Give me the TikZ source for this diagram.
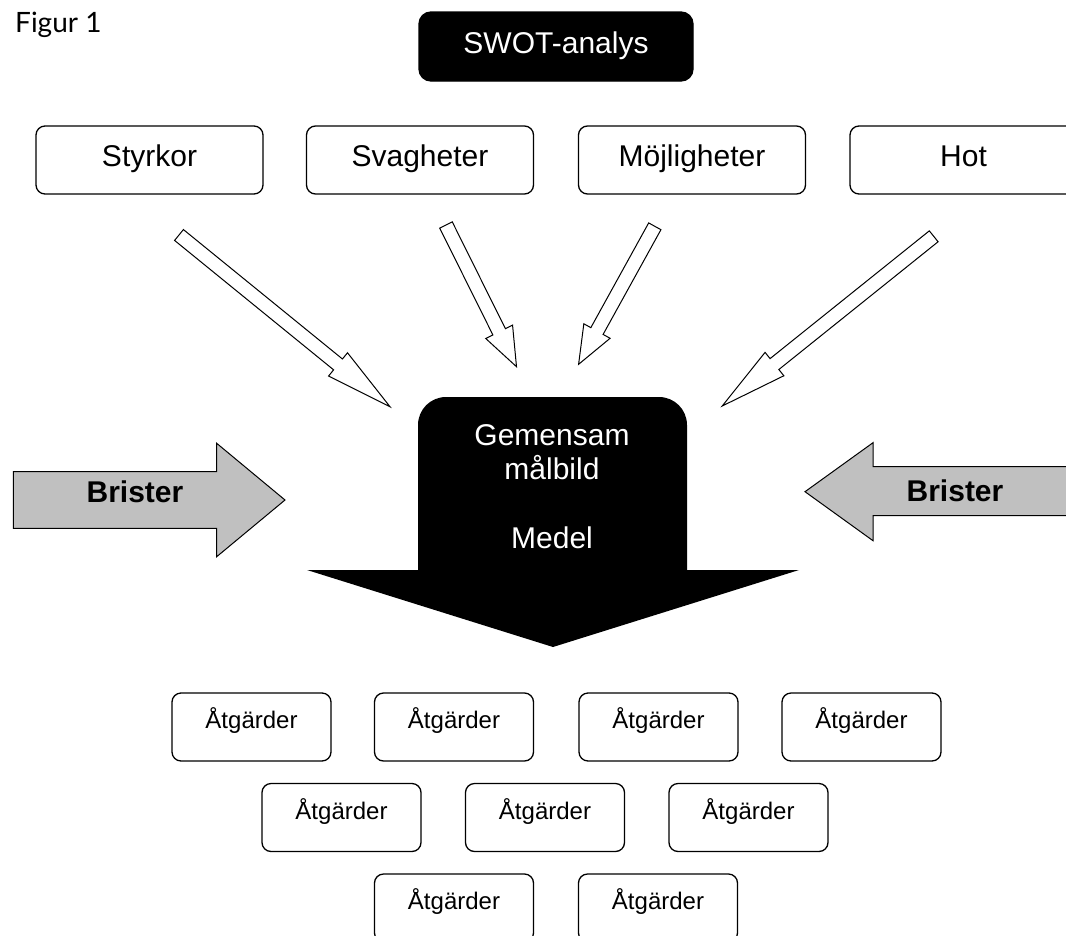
\documentclass[tikz,border=0pt]{standalone}
\usepackage{fontspec}
\setmainfont{Liberation Sans}
\newfontfamily\figfont{Lato}
\usetikzlibrary{calc}
\definecolor{briggrey}{HTML}{C0C0C0}
\tikzset{
  swotbox/.style={draw, line width=1.3pt, rounded corners=9pt, minimum width=227pt,
    minimum height=68pt, inner sep=0pt, font=\fontsize{30}{36}\selectfont,
    text height=22pt, text depth=8.6pt},
  titlebox/.style={swotbox, fill=black, text=white, rounded corners=12pt,
    minimum width=274pt, minimum height=69pt},
  actbox/.style={draw, line width=1.3pt, rounded corners=9pt, minimum width=159pt,
    minimum height=68pt, inner sep=0pt, font=\fontsize{24}{29}\selectfont,
    text height=14pt, text depth=11pt},
  hollowarrow/.style={draw, fill=white, line width=1pt, line join=miter},
  bristerarrow/.style={draw, fill=briggrey, line width=1pt},
  bristertext/.style={font=\bfseries\fontsize{30}{36}\selectfont, anchor=base, inner sep=0pt},
  centertext/.style={text=white, font=\fontsize{30}{36}\selectfont, anchor=base, inner sep=0pt},
}
\newcommand\hollowarr[3]{%
  \coordinate (#1hb) at ($(#2)!#3!(#1)$);
  \draw[hollowarrow] ($(#1)!7pt!90:(#2)$) -- ($(#1hb)!7pt!90:(#2)$)
    -- ($(#1hb)!15pt!90:(#2)$) -- (#2) -- ($(#1hb)!15pt!-90:(#2)$)
    -- ($(#1hb)!7pt!-90:(#2)$) -- ($(#1)!7pt!-90:(#2)$) -- cycle;
}
\begin{document}
\begin{tikzpicture}[x=1pt,y=-1pt]
\path[use as bounding box, clip] (0,0) rectangle (1066,935);
\fill[white] (0,0) rectangle (1066,935);

% title
\node[anchor=base west, font=\figfont\fontsize{28}{34}\selectfont, inner sep=0pt] (fig) at (15,32) {Figur 1};
\node[titlebox] (swot) at (556,46.5) {SWOT-analys};

% SWOT boxes
\node[swotbox] (styrkor) at (149.5,160) {Styrkor};
\node[swotbox] (svag) at (420,160) {Svagheter};
\node[swotbox] (moj) at (692,160) {Möjligheter};
\node[swotbox] (hot) at (963.5,160) {Hot};

% hollow arrows
\coordinate (a1s) at (179,235);   \coordinate (a1e) at (390,406.7);
\coordinate (a2s) at (446,225);   \coordinate (a2e) at (516.5,366.7);
\coordinate (a3s) at (654.8,226.3); \coordinate (a3e) at (578.6,364.3);
\coordinate (a4s) at (933.7,236.3); \coordinate (a4e) at (722.2,406);
\hollowarr{a1s}{a1e}{67pt}
\hollowarr{a2s}{a2e}{39pt}
\hollowarr{a3s}{a3e}{38pt}
\hollowarr{a4s}{a4e}{67pt}

% central black arrow
\fill[black] (418,570) -- (418,425) .. controls (418,409.5) and (430.5,397) .. (446,397)
  -- (659,397) .. controls (674.5,397) and (687,409.5) .. (687,425)
  -- (687,570) -- (799,570) -- (553,647) -- (307,570) -- cycle;
\node[centertext] (gem) at (552,445) {Gemensam};
\node[centertext] (mal) at (552,479) {målbild};
\node[centertext] (medel) at (552,548) {Medel};

% Brister arrows
\draw[bristerarrow] (13.3,471.7) -- (216.7,471.7) -- (216.7,443.3) -- (285,500)
  -- (216.7,556.7) -- (216.7,528.3) -- (13.3,528.3) -- cycle;
\node[bristertext] (bl) at (135,502.7) {Brister};
\draw[bristerarrow] (1080,466.7) -- (873,466.7) -- (873,442.7) -- (805,491.7)
  -- (873,540.7) -- (873,515.7) -- (1080,515.7) -- cycle;
\node[bristertext] (br) at (955,501.7) {Brister};

% Atgarder boxes
\node[actbox] (t1) at (251.5,727) {Åtgärder};
\node[actbox] (t2) at (454,727) {Åtgärder};
\node[actbox] (t3) at (658.5,727) {Åtgärder};
\node[actbox] (t4) at (861.5,727) {Åtgärder};
\node[actbox] (t5) at (341.5,817.5) {Åtgärder};
\node[actbox] (t6) at (545,817.5) {Åtgärder};
\node[actbox] (t7) at (748.5,817.5) {Åtgärder};
\node[actbox] (t8) at (454,908) {Åtgärder};
\node[actbox] (t9) at (658,908) {Åtgärder};
\end{tikzpicture}
\end{document}
